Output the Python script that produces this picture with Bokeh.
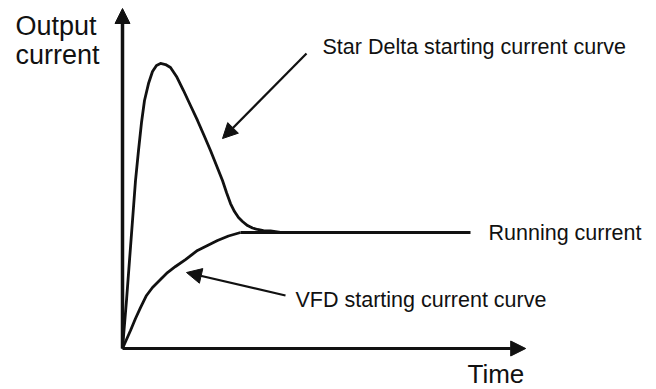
from bokeh.plotting import figure
from bokeh.models import Range1d, Arrow, NormalHead, Label
from bokeh.embed import file_html
from bokeh.resources import INLINE

# Star-delta starting current (time, current normalised to running current)
star_t = [0, 0.1, 0.175, 0.25, 0.325, 0.40, 0.475, 0.55, 0.65, 0.75, 0.85, 0.95, 1.075, 1.20,
          1.35, 1.525, 1.70, 1.875, 2.05, 2.20, 2.35, 2.50, 2.60, 2.70, 2.80, 2.90, 3.00,
          3.125, 3.25, 3.375, 3.525, 3.70, 3.95]
star_i = [0, 0.414, 0.759, 1.103, 1.448, 1.707, 1.948, 2.138, 2.284, 2.388, 2.440, 2.457, 2.448, 2.422,
          2.345, 2.224, 2.095, 1.966, 1.828, 1.707, 1.578, 1.448, 1.345, 1.250, 1.181, 1.129, 1.095,
          1.060, 1.039, 1.026, 1.017, 1.013, 1.0]

# VFD starting current
vfd_t = [0, 0.1, 0.2, 0.325, 0.45, 0.60, 0.75, 0.95, 1.125, 1.325, 1.575, 1.875, 2.125, 2.375, 2.65, 2.95]
vfd_i = [0, 0.078, 0.155, 0.259, 0.353, 0.457, 0.526, 0.595, 0.655, 0.707, 0.767, 0.845, 0.888, 0.931, 0.970, 1.0]

# Running current
run_t = [2.95, 8.7]
run_i = [1.0, 1.0]

labels = ["Star Delta starting current curve", "Running current", "VFD starting current curve"]

FONT = "Liberation Sans"
INK = "#111111"

p = figure(width=656, height=389, output_backend="svg", toolbar_location=None,
           x_range=Range1d(-3.05, 13.35), y_range=Range1d(-0.3534, 3.0),
           x_axis_type=None, y_axis_type=None, min_border=0)
p.grid.visible = False
p.outline_line_color = None
p.background_fill_color = "white"
p.border_fill_color = "white"

p.line(star_t, star_i, line_width=2.8, line_color=INK, line_join="round")
p.line(vfd_t, vfd_i, line_width=2.8, line_color=INK, line_join="round")
p.line(run_t, run_i, line_width=3.0, line_color=INK)

# axes with arrow heads
p.add_layout(Arrow(end=NormalHead(size=15, fill_color=INK, line_color=INK),
                   x_start=0, y_start=0, x_end=0, y_end=2.931, line_width=3.5, line_color=INK))
p.add_layout(Arrow(end=NormalHead(size=15, fill_color=INK, line_color=INK),
                   x_start=0, y_start=0, x_end=10.08, y_end=0, line_width=3.0, line_color=INK))

# annotation arrows
p.add_layout(Arrow(end=NormalHead(size=15, fill_color=INK, line_color=INK),
                   x_start=4.6, y_start=2.543, x_end=2.5, y_end=1.81, line_width=2.2, line_color=INK))
p.add_layout(Arrow(end=NormalHead(size=15, fill_color=INK, line_color=INK),
                   x_start=4.075, y_start=0.457, x_end=1.6, y_end=0.655, line_width=2.2, line_color=INK))

def lab(x, y, t, size):
    p.add_layout(Label(x=x, y=y, text=t, text_font=FONT, text_font_size=size,
                       text_color=INK, text_baseline="alphabetic", text_align="left"))

lab(-2.675, 2.784, "Output", "27px")
lab(-2.675, 2.534, "current", "27px")
lab(8.625, -0.22, "Time", "26px")
lab(5.0, 2.595, labels[0], "21.5px")
lab(9.15, 1.0, labels[1], "21.5px")
lab(4.325, 0.414, labels[2], "21.5px")

open("out.html", "w").write(file_html(p, INLINE))
